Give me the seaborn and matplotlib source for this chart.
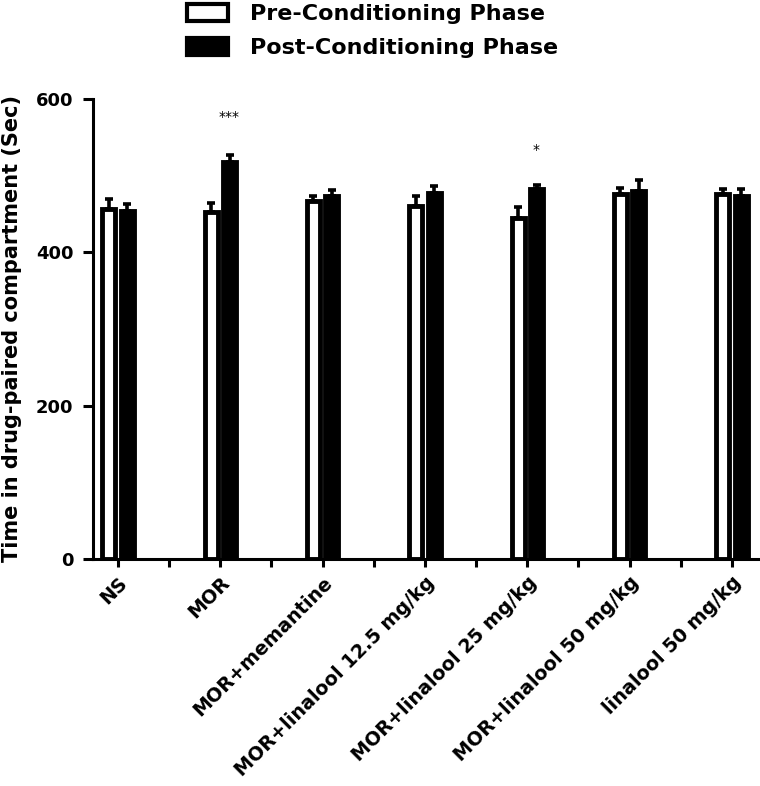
import matplotlib
matplotlib.use("Agg")
import matplotlib.pyplot as plt
import matplotlib.patches as mpatches
from matplotlib.ticker import FixedLocator
import numpy as np
import pandas as pd
import seaborn as sns

# ---- data ----
groups = ["NS", "MOR", "MOR+memantine", "MOR+linalool 12.5 mg/kg",
          "MOR+linalool 25 mg/kg", "MOR+linalool 50 mg/kg", "linalool 50 mg/kg"]
phases = ["Pre-Conditioning Phase", "Post-Conditioning Phase"]
pre_mean = [457, 452, 467, 460, 445, 476, 476]
pre_sem = [12, 13, 7, 14, 14, 8, 7]
post_mean = [454, 518, 474, 477, 483, 480, 474]
post_sem = [9, 9, 7, 9, 5, 14, 8]
significance = ["", "***", "", "", "*", "", ""]
phase_colors = ["white", "black"]
yticks = [0, 200, 400, 600]
ylabel = "Time in drug-paired compartment (Sec)"

df = pd.DataFrame({
    "group": groups * 2,
    "phase": [phases[0]] * len(groups) + [phases[1]] * len(groups),
    "value": pre_mean + post_mean,
})

sns.set_style("ticks")
plt.rcParams["font.family"] = ["DejaVu Sans"]
plt.rcParams["font.weight"] = "bold"
for key in ["text.color", "axes.labelcolor", "xtick.color", "ytick.color",
            "axes.edgecolor"]:
    plt.rcParams[key] = "black"

fig = plt.figure(figsize=(7.6, 7.86), dpi=100)
ax = fig.add_axes([93 / 760, 227 / 786, (758 - 93) / 760, 460 / 786])

sns.barplot(data=df, x="group", y="value", hue="phase", order=groups,
            hue_order=phases, palette=dict(zip(phases, phase_colors)),
            edgecolor="black", linewidth=3.5, width=0.36, gap=0.3,
            errorbar=None, legend=False, ax=ax, saturation=1)

# upper-only error bars
for cont, sems in zip(ax.containers, [pre_sem, post_sem]):
    xs = [p.get_x() + p.get_width() / 2 for p in cont.patches]
    hs = [p.get_height() for p in cont.patches]
    ax.errorbar(xs, hs, yerr=[np.zeros(len(sems)), sems], fmt="none",
                ecolor="black", elinewidth=2.6, capsize=2.6, capthick=2.6,
                zorder=3)

# significance marks above post bars
post_cont = ax.containers[1]
for p, m, s, mark in zip(post_cont.patches, post_mean, post_sem, significance):
    if mark:
        ax.text(p.get_x() + p.get_width() / 2, m + s + (50 if mark == "***" else 45),
                mark, ha="center", va="center", fontsize=10, fontweight="normal")

ax.set_ylim(0, 600)
ax.set_xlim(-0.244, 6.254)
ax.set_yticks(yticks)
ax.set_yticklabels([str(t) for t in yticks], fontsize=13, fontweight="bold")
ax.set_xticks(range(len(groups)))
ax.set_xticklabels(groups, rotation=45, ha="right", rotation_mode="anchor",
                   fontsize=13.8, fontweight="bold")
ax.xaxis.set_minor_locator(FixedLocator(np.arange(0.5, len(groups) - 1, 1.0)))
ax.tick_params(axis="both", which="both", width=2.2, color="black")
ax.tick_params(axis="y", which="major", length=7, pad=7)
ax.tick_params(axis="x", which="major", length=6, pad=4)
ax.tick_params(axis="x", which="minor", length=6)
ax.set_xlabel("")
ax.set_ylabel(ylabel, fontsize=15, fontweight="bold", labelpad=10)
for side in ["top", "right"]:
    ax.spines[side].set_visible(False)
for side in ["left", "bottom"]:
    ax.spines[side].set_linewidth(2.2)
    ax.spines[side].set_color("black")

handles = [mpatches.Patch(facecolor=c, edgecolor="black", linewidth=3.0)
           for c in phase_colors]
fig.legend(handles, phases, loc="upper left",
           bbox_to_anchor=(187 / 760, 1 - 4 / 786),
           frameon=False, borderpad=0, borderaxespad=0, handlelength=1.85,
           handleheight=0.8, labelspacing=0.6, handletextpad=1.0,
           prop={"size": 16, "weight": "bold"})

fig.savefig("out.png", dpi=100)
